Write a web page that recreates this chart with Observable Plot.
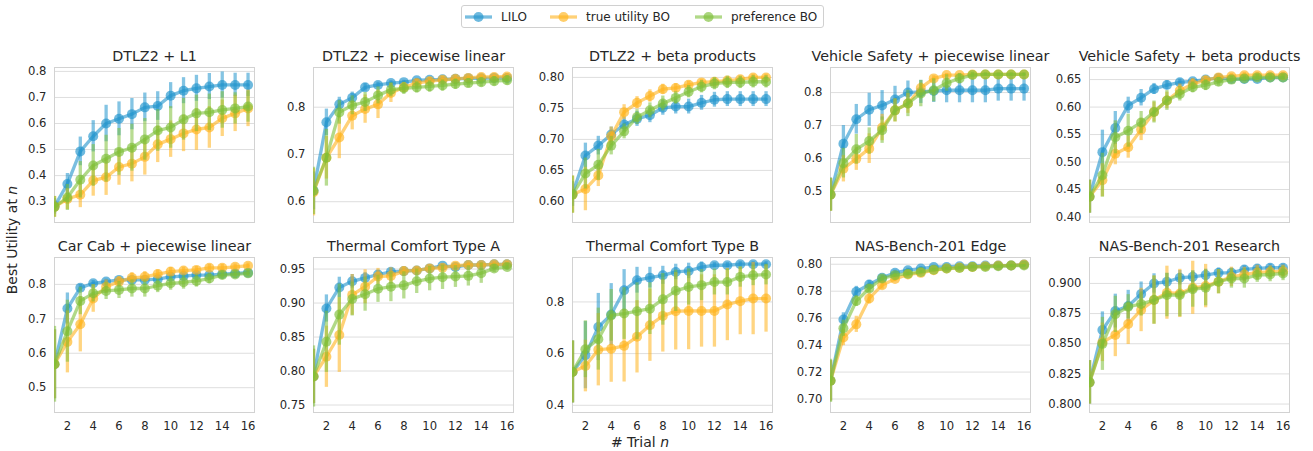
<!DOCTYPE html>
<html><head><meta charset="utf-8">
<script src="https://cdn.jsdelivr.net/npm/d3@7"></script>
<script src="https://cdn.jsdelivr.net/npm/@observablehq/plot@0.6"></script>
<style>
body{margin:0;background:#fff;font-family:"DejaVu Sans",sans-serif;color:#262626}
#fig{position:relative;width:1313px;height:451px;overflow:hidden;background:#fff}
.panel{position:absolute}
.panel svg{overflow:visible;background:transparent}
#legend{position:absolute;left:461px;top:5px;width:361px;height:21px;border:1px solid #d0d0d0;border-radius:3px;font-size:12px}
.li{position:absolute;top:0;height:21px;display:flex;align-items:center}
.li svg{margin-right:9px}
#ylab{position:absolute;left:12px;top:240px;transform:translate(-50%,-50%) rotate(-90deg);font-size:14px;white-space:nowrap}
#xlab{position:absolute;left:640px;top:442px;transform:translate(-50%,-50%);font-size:14px;white-space:nowrap}
</style></head><body><div id="fig"></div>
<script>
const trials = [1,2,3,4,5,6,7,8,9,10,11,12,13,14,15,16];
const methods = ["LILO","true utility BO","preference BO"];
const panelTitles = ["DTLZ2 + L1","DTLZ2 + piecewise linear","DTLZ2 + beta products","Vehicle Safety + piecewise linear","Vehicle Safety + beta products","Car Cab + piecewise linear","Thermal Comfort Type A","Thermal Comfort Type B","NAS-Bench-201 Edge","NAS-Bench-201 Research"];
const yTicks = [
  [0.3,0.4,0.5,0.6,0.7,0.8],[0.6,0.7,0.8],[0.60,0.65,0.70,0.75,0.80],[0.5,0.6,0.7,0.8],[0.40,0.45,0.50,0.55,0.60,0.65],
  [0.5,0.6,0.7,0.8],[0.75,0.80,0.85,0.90,0.95],[0.4,0.6,0.8],[0.70,0.72,0.74,0.76,0.78,0.80],[0.800,0.825,0.850,0.875,0.900]
];
const xTicks = [2,4,6,8,10,12,14,16];

const liloMean = [
 [0.282,0.368,0.493,0.551,0.600,0.618,0.636,0.662,0.667,0.707,0.726,0.735,0.742,0.748,0.748,0.748],
 [0.623,0.768,0.806,0.820,0.842,0.847,0.851,0.853,0.857,0.858,0.859,0.860,0.861,0.861,0.862,0.862],
 [0.612,0.674,0.690,0.708,0.724,0.733,0.739,0.751,0.753,0.753,0.759,0.764,0.765,0.765,0.765,0.765],
 [0.491,0.645,0.719,0.748,0.761,0.779,0.800,0.802,0.805,0.807,0.807,0.807,0.807,0.812,0.812,0.812],
 [0.437,0.518,0.562,0.603,0.617,0.633,0.640,0.645,0.647,0.650,0.653,0.651,0.651,0.651,0.654,0.654],
 [0.568,0.730,0.790,0.803,0.808,0.813,0.813,0.813,0.815,0.822,0.824,0.827,0.827,0.830,0.832,0.834],
 [0.792,0.892,0.923,0.932,0.937,0.942,0.946,0.947,0.948,0.951,0.955,0.953,0.956,0.956,0.957,0.957],
 [0.529,0.594,0.703,0.751,0.845,0.884,0.894,0.903,0.916,0.920,0.935,0.942,0.942,0.946,0.946,0.946],
 [0.7135,0.759,0.7796,0.785,0.790,0.7936,0.7956,0.7968,0.798,0.798,0.7985,0.7985,0.799,0.799,0.799,0.7998],
 [0.818,0.8614,0.8771,0.8813,0.8912,0.900,0.9014,0.9047,0.9055,0.9069,0.9088,0.9088,0.9116,0.9124,0.913,0.913]
];
const liloErr = [
 [0.03,0.04,0.055,0.06,0.07,0.065,0.06,0.055,0.055,0.05,0.05,0.05,0.05,0.05,0.045,0.045],
 [0.04,0.028,0.015,0.012,0.008,0.006,0.005,0.004,0.004,0.004,0.004,0.004,0.004,0.004,0.004,0.004],
 [0.02,0.02,0.015,0.012,0.012,0.012,0.012,0.012,0.012,0.012,0.012,0.012,0.012,0.012,0.012,0.012],
 [0.05,0.055,0.045,0.05,0.045,0.04,0.035,0.035,0.035,0.038,0.038,0.038,0.038,0.038,0.038,0.038],
 [0.03,0.04,0.03,0.015,0.015,0.01,0.008,0.006,0.005,0.004,0.004,0.004,0.004,0.004,0.004,0.004],
 [0.1,0.045,0.01,0.008,0.007,0.006,0.006,0.006,0.006,0.006,0.006,0.006,0.006,0.006,0.006,0.006],
 [0.04,0.02,0.015,0.01,0.008,0.006,0.005,0.004,0.004,0.004,0.003,0.003,0.003,0.003,0.003,0.003],
 [0.12,0.13,0.13,0.12,0.08,0.05,0.04,0.035,0.03,0.03,0.02,0.01,0.01,0.01,0.01,0.01],
 [0.015,0.005,0.004,0.003,0.002,0.002,0.0015,0.0015,0.001,0.001,0.001,0.001,0.001,0.001,0.001,0.001],
 [0.018,0.015,0.014,0.013,0.01,0.008,0.007,0.006,0.005,0.005,0.004,0.004,0.003,0.003,0.003,0.003]
];
const tuMean = [
 [0.280,0.310,0.327,0.381,0.394,0.433,0.446,0.472,0.520,0.540,0.562,0.577,0.585,0.620,0.639,0.658],
 [0.620,0.693,0.736,0.782,0.796,0.806,0.830,0.842,0.851,0.855,0.858,0.860,0.862,0.864,0.864,0.865],
 [0.611,0.620,0.642,0.705,0.744,0.759,0.770,0.781,0.783,0.788,0.792,0.793,0.795,0.797,0.800,0.800],
 [0.490,0.569,0.599,0.630,0.694,0.746,0.767,0.814,0.843,0.853,0.853,0.855,0.855,0.855,0.855,0.855],
 [0.437,0.467,0.515,0.527,0.559,0.591,0.612,0.630,0.642,0.649,0.654,0.656,0.658,0.658,0.658,0.658],
 [0.568,0.633,0.684,0.759,0.793,0.808,0.819,0.822,0.830,0.837,0.840,0.842,0.848,0.848,0.851,0.854],
 [0.792,0.821,0.853,0.912,0.924,0.939,0.940,0.947,0.948,0.951,0.952,0.955,0.956,0.956,0.957,0.957],
 [0.529,0.552,0.615,0.619,0.630,0.665,0.710,0.746,0.764,0.765,0.765,0.765,0.790,0.803,0.813,0.813],
 [0.7135,0.7456,0.7554,0.7746,0.7845,0.789,0.7924,0.7936,0.7956,0.7968,0.7975,0.798,0.7985,0.799,0.799,0.7998],
 [0.818,0.8512,0.8573,0.8664,0.878,0.8862,0.8923,0.8917,0.8964,0.8978,0.9014,0.9055,0.9074,0.9091,0.9096,0.9102]
];
const tuErr = [
 [0.04,0.04,0.05,0.06,0.07,0.07,0.07,0.07,0.07,0.07,0.07,0.08,0.08,0.07,0.07,0.07],
 [0.05,0.045,0.045,0.03,0.03,0.03,0.02,0.01,0.008,0.008,0.007,0.007,0.006,0.006,0.006,0.006],
 [0.03,0.035,0.018,0.015,0.012,0.01,0.01,0.008,0.007,0.006,0.005,0.005,0.005,0.005,0.005,0.005],
 [0.05,0.04,0.035,0.045,0.04,0.035,0.03,0.015,0.008,0.005,0.005,0.004,0.004,0.004,0.004,0.004],
 [0.03,0.03,0.02,0.02,0.02,0.018,0.015,0.012,0.01,0.007,0.006,0.005,0.005,0.005,0.005,0.005],
 [0.1,0.09,0.08,0.04,0.02,0.015,0.015,0.015,0.012,0.012,0.01,0.01,0.01,0.01,0.008,0.008],
 [0.04,0.045,0.055,0.03,0.025,0.012,0.012,0.006,0.005,0.005,0.005,0.004,0.004,0.004,0.004,0.004],
 [0.12,0.1,0.14,0.13,0.14,0.14,0.14,0.14,0.15,0.15,0.14,0.14,0.14,0.13,0.14,0.13],
 [0.015,0.006,0.006,0.004,0.003,0.002,0.002,0.0015,0.001,0.001,0.001,0.001,0.001,0.001,0.001,0.001],
 [0.018,0.016,0.018,0.017,0.018,0.02,0.022,0.02,0.022,0.018,0.01,0.008,0.006,0.006,0.005,0.005]
];
const prefMean = [
 [0.280,0.316,0.384,0.439,0.465,0.491,0.507,0.539,0.573,0.585,0.616,0.639,0.643,0.652,0.658,0.665],
 [0.623,0.693,0.789,0.804,0.811,0.825,0.837,0.840,0.842,0.844,0.846,0.849,0.851,0.853,0.855,0.857],
 [0.611,0.645,0.659,0.690,0.713,0.736,0.747,0.758,0.767,0.777,0.785,0.790,0.792,0.792,0.793,0.793],
 [0.490,0.586,0.628,0.653,0.686,0.746,0.767,0.797,0.807,0.829,0.843,0.853,0.855,0.855,0.855,0.855],
 [0.437,0.476,0.545,0.557,0.572,0.591,0.612,0.624,0.636,0.640,0.646,0.650,0.652,0.654,0.654,0.654],
 [0.568,0.664,0.752,0.774,0.781,0.784,0.788,0.788,0.796,0.803,0.806,0.810,0.817,0.827,0.829,0.832],
 [0.792,0.843,0.883,0.906,0.913,0.921,0.924,0.926,0.932,0.936,0.938,0.939,0.940,0.944,0.951,0.953],
 [0.529,0.617,0.656,0.748,0.755,0.764,0.774,0.810,0.843,0.858,0.865,0.877,0.877,0.897,0.903,0.906],
 [0.7135,0.7525,0.7727,0.782,0.7894,0.7919,0.793,0.7943,0.796,0.7968,0.7973,0.798,0.798,0.7985,0.799,0.799],
 [0.818,0.8499,0.8744,0.8807,0.8829,0.8862,0.8904,0.8904,0.8953,0.8964,0.9014,0.9041,0.9041,0.9069,0.9074,0.9083]
];
const prefErr = [
 [0.04,0.05,0.07,0.08,0.09,0.09,0.09,0.08,0.08,0.08,0.08,0.07,0.07,0.07,0.06,0.06],
 [0.05,0.06,0.025,0.02,0.02,0.018,0.015,0.013,0.012,0.012,0.012,0.011,0.01,0.01,0.01,0.01],
 [0.03,0.025,0.025,0.015,0.012,0.012,0.012,0.012,0.01,0.01,0.01,0.01,0.01,0.01,0.01,0.01],
 [0.05,0.045,0.045,0.04,0.04,0.035,0.04,0.04,0.035,0.025,0.015,0.008,0.005,0.005,0.005,0.005],
 [0.03,0.04,0.03,0.03,0.02,0.02,0.018,0.013,0.01,0.01,0.008,0.006,0.005,0.005,0.005,0.005],
 [0.11,0.09,0.04,0.025,0.025,0.025,0.025,0.025,0.02,0.02,0.02,0.018,0.015,0.012,0.012,0.01],
 [0.045,0.045,0.045,0.025,0.025,0.02,0.022,0.02,0.018,0.018,0.018,0.016,0.015,0.015,0.006,0.005],
 [0.12,0.11,0.12,0.1,0.1,0.11,0.1,0.1,0.08,0.07,0.06,0.05,0.05,0.04,0.04,0.04],
 [0.016,0.006,0.004,0.003,0.002,0.0015,0.0015,0.001,0.001,0.001,0.001,0.001,0.001,0.001,0.001,0.001],
 [0.018,0.022,0.015,0.01,0.01,0.02,0.018,0.018,0.015,0.015,0.01,0.008,0.008,0.006,0.006,0.006]
];

// ---- styling / layout ----
const colors = ["#1f93cc","#ffb31c","#7dbf38"];
const yDomains = [[0.22,0.815],[0.556,0.884],[0.566,0.816],[0.406,0.876],[0.39,0.672],
                  [0.428,0.878],[0.739,0.967],[0.372,0.972],[0.690,0.805],[0.793,0.9215]];
const yFormats = [".1f",".1f",".2f",".1f",".2f",".1f",".2f",".1f",".2f",".3f"];
const frameLeft = [54, 312.5, 571.5, 830, 1089];
const frameTop = [67, 257];
const FW = 200, FH = 155, ML = 50, MR = 10, MT = 30;

const fig = document.getElementById("fig");
const means = [liloMean, tuMean, prefMean];
const errs = [liloErr, tuErr, prefErr];

panelTitles.forEach((title, p) => {
  const row = Math.floor(p / 5), col = p % 5;
  const rows = [];
  methods.forEach((m, k) => trials.forEach((n, j) => {
    const v = means[k][p][j], e = errs[k][p][j];
    rows.push({method: m, n, mean: v, lo: v - e, hi: v + e});
  }));
  const MB = row === 1 ? 30 : 4;
  const marks = [
    Plot.gridY(yTicks[p], {stroke: "#dedede", strokeOpacity: 1, strokeWidth: 1}),
    Plot.frame({stroke: "#d2d2d2", strokeWidth: 1})
  ];
  methods.forEach((m, k) => {
    const d = rows.filter(r => r.method === m);
    marks.push(
      Plot.ruleX(d, {x: "n", y1: "lo", y2: "hi", stroke: colors[k], strokeWidth: 3.3, strokeOpacity: 0.55, clip: true}),
      Plot.line(d, {x: "n", y: "mean", stroke: colors[k], strokeWidth: 3.3, strokeOpacity: 0.6, clip: true}),
      Plot.dot(d, {x: "n", y: "mean", r: 5, fill: colors[k], fillOpacity: 0.65, stroke: "none", clip: true})
    );
  });
  marks.push(Plot.text([title], {frameAnchor: "top", lineAnchor: "bottom", dy: -7, fontSize: 14.3, fill: "#262626"}));
  const chart = Plot.plot({
    width: ML + FW + MR, height: MT + FH + MB,
    marginLeft: ML, marginRight: MR, marginTop: MT, marginBottom: MB,
    style: {fontSize: "11.6px", fontFamily: "DejaVu Sans, sans-serif", color: "#262626", background: "transparent", overflow: "visible"},
    x: {domain: [1, 16.5], ticks: xTicks, tickSize: 0, tickPadding: 9, label: null, axis: row === 1 ? "bottom" : null},
    y: {domain: yDomains[p], ticks: yTicks[p], tickFormat: d3.format(yFormats[p]), tickSize: 0, tickPadding: 8, label: null},
    marks
  });
  const div = document.createElement("div");
  div.className = "panel";
  div.style.left = (frameLeft[col] - ML) + "px";
  div.style.top = (frameTop[row] - MT) + "px";
  div.appendChild(chart);
  fig.appendChild(div);
});

// legend
const leg = document.createElement("div");
leg.id = "legend";
const legX = [3, 88, 233];
methods.forEach((m, k) => {
  const it = document.createElement("div");
  it.className = "li";
  it.style.left = legX[k] + "px";
  it.innerHTML = `<svg width="27" height="12"><line x1="0" x2="27" y1="6" y2="6" stroke="${colors[k]}" stroke-width="3.3" stroke-opacity="0.6"/><circle cx="13.5" cy="6" r="5" fill="${colors[k]}" fill-opacity="0.65"/></svg><span>${m}</span>`;
  leg.appendChild(it);
});
fig.appendChild(leg);

const yl = document.createElement("div");
yl.id = "ylab"; yl.innerHTML = "Best Utility at <i>n</i>";
fig.appendChild(yl);
const xl = document.createElement("div");
xl.id = "xlab"; xl.innerHTML = "# Trial <i>n</i>";
fig.appendChild(xl);
</script></body></html>
